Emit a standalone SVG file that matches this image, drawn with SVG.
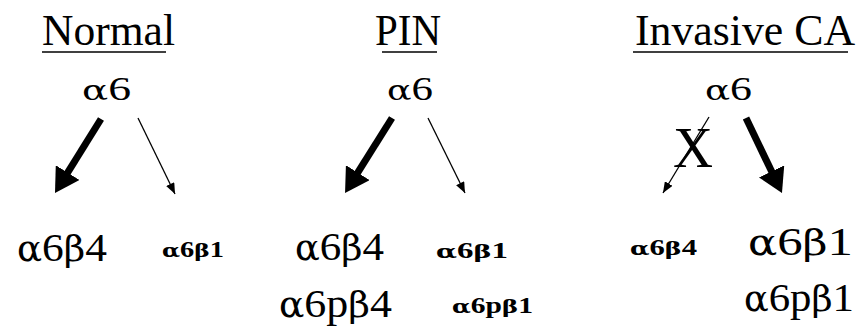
<svg xmlns="http://www.w3.org/2000/svg" width="859" height="326" viewBox="0 0 859 326">
  <style>
    text { font-family: "Liberation Serif", "Times New Roman", serif; fill: #000; }
    .g { font-family: "DejaVu Serif", serif; }
    .title { font-size: 44px; }
    .root { font-size: 33px; }
    .root .g { font-size: 28px; }
    .big { font-size: 41px; }
    .big .g { font-size: 35px; }
    .small { font-size: 23px; font-weight: bold; }
    .small .g { font-size: 19px; }
    .cross { font-size: 58px; }
    .rule { stroke: #000; stroke-width: 1.6; }
    .thick { stroke: #000; stroke-width: 7; fill: none; }
    .thin { stroke: #000; stroke-width: 1.3; fill: none; }
  </style>
  <defs>
    <marker id="headThick" markerUnits="userSpaceOnUse" viewBox="0 0 24 28" refX="6" refY="14" markerWidth="24" markerHeight="28" orient="auto">
      <path d="M0,0 L24,14 L0,28 z" fill="#000"/>
    </marker>
    <marker id="headThin" markerUnits="userSpaceOnUse" viewBox="0 0 11 9" refX="11" refY="4.5" markerWidth="11" markerHeight="9" orient="auto">
      <path d="M0,0 L11,4.5 L0,9 z" fill="#000"/>
    </marker>
  </defs>

  <!-- column headings -->
  <g id="normal-title">
    <text class="title" x="42" y="45" textLength="133" lengthAdjust="spacingAndGlyphs">Normal</text>
    <line class="rule" x1="42" y1="52" x2="166" y2="52"/>
  </g>
  <g id="pin-title">
    <text class="title" x="375" y="45" textLength="66" lengthAdjust="spacingAndGlyphs">PIN</text>
    <line class="rule" x1="382" y1="52" x2="437" y2="52"/>
  </g>
  <g id="invasive-title">
    <text class="title" x="635" y="45" textLength="220" lengthAdjust="spacingAndGlyphs">Invasive CA</text>
    <line class="rule" x1="633" y1="52" x2="848" y2="52"/>
  </g>

  <!-- alpha6 sources -->
  <g id="normal-a6"><text class="root" x="82" y="100" textLength="49" lengthAdjust="spacingAndGlyphs"><tspan class="g">α</tspan>6</text></g>
  <g id="pin-a6"><text class="root" x="387" y="100" textLength="46" lengthAdjust="spacingAndGlyphs"><tspan class="g">α</tspan>6</text></g>
  <g id="invasive-a6"><text class="root" x="705" y="100" textLength="47" lengthAdjust="spacingAndGlyphs"><tspan class="g">α</tspan>6</text></g>

  <!-- products -->
  <g id="normal-a6b4"><text class="big" x="17" y="261" textLength="90" lengthAdjust="spacingAndGlyphs"><tspan class="g">α</tspan>6<tspan class="g">β</tspan>4</text></g>
  <g id="normal-a6b1"><text class="small" x="162" y="257" textLength="62" lengthAdjust="spacingAndGlyphs"><tspan class="g">α</tspan>6<tspan class="g">β</tspan>1</text></g>

  <g id="pin-a6b4"><text class="big" x="295" y="260" textLength="89" lengthAdjust="spacingAndGlyphs"><tspan class="g">α</tspan>6<tspan class="g">β</tspan>4</text></g>
  <g id="pin-a6pb4"><text class="big" x="279" y="317" textLength="113" lengthAdjust="spacingAndGlyphs"><tspan class="g">α</tspan>6p<tspan class="g">β</tspan>4</text></g>
  <g id="pin-a6b1"><text class="small" x="436" y="258" textLength="72" lengthAdjust="spacingAndGlyphs"><tspan class="g">α</tspan>6<tspan class="g">β</tspan>1</text></g>
  <g id="pin-a6pb1"><text class="small" x="452" y="313" textLength="81" lengthAdjust="spacingAndGlyphs"><tspan class="g">α</tspan>6p<tspan class="g">β</tspan>1</text></g>

  <g id="invasive-a6b4"><text class="small" x="630" y="255" textLength="67" lengthAdjust="spacingAndGlyphs"><tspan class="g">α</tspan>6<tspan class="g">β</tspan>4</text></g>
  <g id="invasive-a6b1"><text class="big" x="748" y="255" textLength="105" lengthAdjust="spacingAndGlyphs"><tspan class="g">α</tspan>6<tspan class="g">β</tspan>1</text></g>
  <g id="invasive-a6pb1"><text class="big" x="744" y="311" textLength="110" lengthAdjust="spacingAndGlyphs"><tspan class="g">α</tspan>6p<tspan class="g">β</tspan>1</text></g>

  <!-- connectors -->
  <g id="connectors">
    <line class="thick" x1="101" y1="119" x2="64.5" y2="177.7" marker-end="url(#headThick)"/>
    <line class="thin" x1="138" y1="118" x2="175" y2="194" marker-end="url(#headThin)"/>

    <line class="thick" x1="392" y1="118" x2="354.6" y2="177.7" marker-end="url(#headThick)"/>
    <line class="thin" x1="428" y1="118" x2="465" y2="193" marker-end="url(#headThin)"/>

    <line class="thin" x1="709" y1="117" x2="663" y2="193" marker-end="url(#headThin)"/>
    <line class="thick" x1="746" y1="118" x2="774.2" y2="176.8" marker-end="url(#headThick)"/>
  </g>

  <!-- blocked pathway mark -->
  <g id="invasive-block">
    <text class="cross" x="673" y="167" textLength="40" lengthAdjust="spacingAndGlyphs">X</text>
  </g>
</svg>
